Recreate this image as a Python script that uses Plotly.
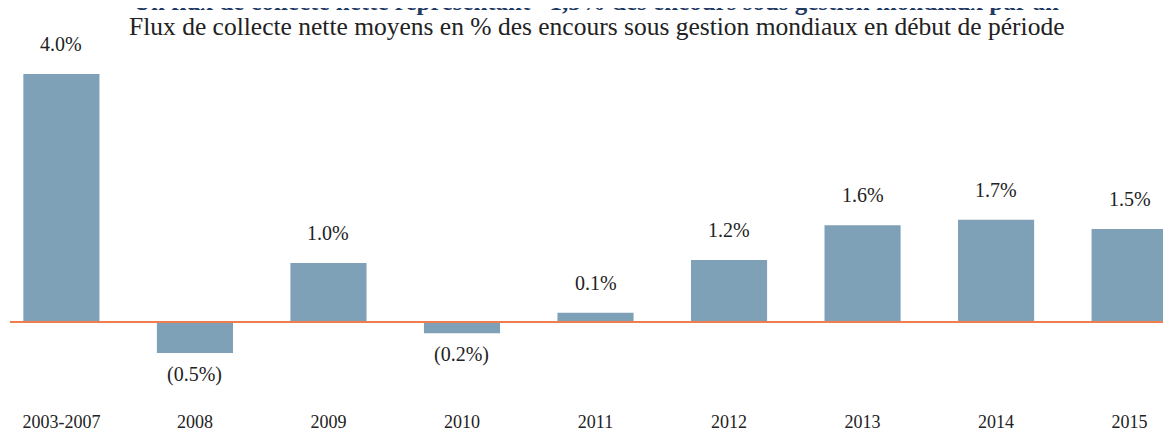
import plotly.graph_objects as go

categories = ["2003-2007", "2008", "2009", "2010", "2011", "2012", "2013", "2014", "2015"]
values = [4.0, -0.5, 0.95, -0.18, 0.15, 1.0, 1.56, 1.65, 1.5]
value_labels = ["4.0%", "(0.5%)", "1.0%", "(0.2%)", "0.1%", "1.2%", "1.6%", "1.7%", "1.5%"]

title_text = "Un flux de collecte nette représentant ~1,5% des encours sous gestion mondiaux par an"
subtitle_text = "Flux de collecte nette moyens en % des encours sous gestion mondiaux en début de période"

FONT = "Liberation Serif, DejaVu Serif, Times New Roman, serif"
BAR_COLOR = "#7FA1B7"
LINE_COLOR = "#EF7D4E"
TEXT_COLOR = "#222222"

fig = go.Figure(
    go.Bar(
        x=list(range(len(categories))),
        y=values,
        marker=dict(color=BAR_COLOR, line=dict(width=0)),
        width=0.57,
        hoverinfo="skip",
    )
)

annotations = []
for i, (v, lab) in enumerate(zip(values, value_labels)):
    annotations.append(dict(
        x=i, y=v, xref="x", yref="y", text=lab, showarrow=False,
        yanchor="middle", xanchor="center",
        yshift=30 if v >= 0 else -21,
        font=dict(family=FONT, size=20, color=TEXT_COLOR),
    ))

annotations.append(dict(
    x=0.505, y=1.0, xref="paper", yref="paper", text=subtitle_text, showarrow=False,
    xanchor="center", yanchor="middle", yshift=14,
    font=dict(family=FONT, size=25.5, color=TEXT_COLOR),
))
annotations.append(dict(
    x=0.505, y=1.0, xref="paper", yref="paper", text="<b>" + title_text + "</b>", showarrow=False,
    xanchor="center", yanchor="middle", yshift=39,
    font=dict(family=FONT, size=25, color="#1F3A63"),
))

fig.update_layout(
    width=1163, height=426,
    margin=dict(l=2, r=0, t=32, b=25),
    paper_bgcolor="white", plot_bgcolor="white",
    showlegend=False,
    annotations=annotations,
    xaxis=dict(
        range=[-0.385, 8.31],
        tickmode="array",
        tickvals=list(range(len(categories))),
        ticktext=categories,
        showgrid=False, zeroline=False, showline=False, ticks="",
        tickfont=dict(family=FONT, size=18, color=TEXT_COLOR),
        automargin=False,
        fixedrange=True,
    ),
    yaxis=dict(
        range=[-1.403, 4.548],
        showgrid=False, zeroline=False, showline=False,
        showticklabels=False, ticks="",
        automargin=False,
        fixedrange=True,
    ),
    shapes=[dict(
        type="line", xref="paper", yref="y", x0=0, x1=1, y0=0, y1=0,
        line=dict(color=LINE_COLOR, width=2), layer="above",
    )],
)

fig.write_html("out.html", config={"displayModeBar": False})
